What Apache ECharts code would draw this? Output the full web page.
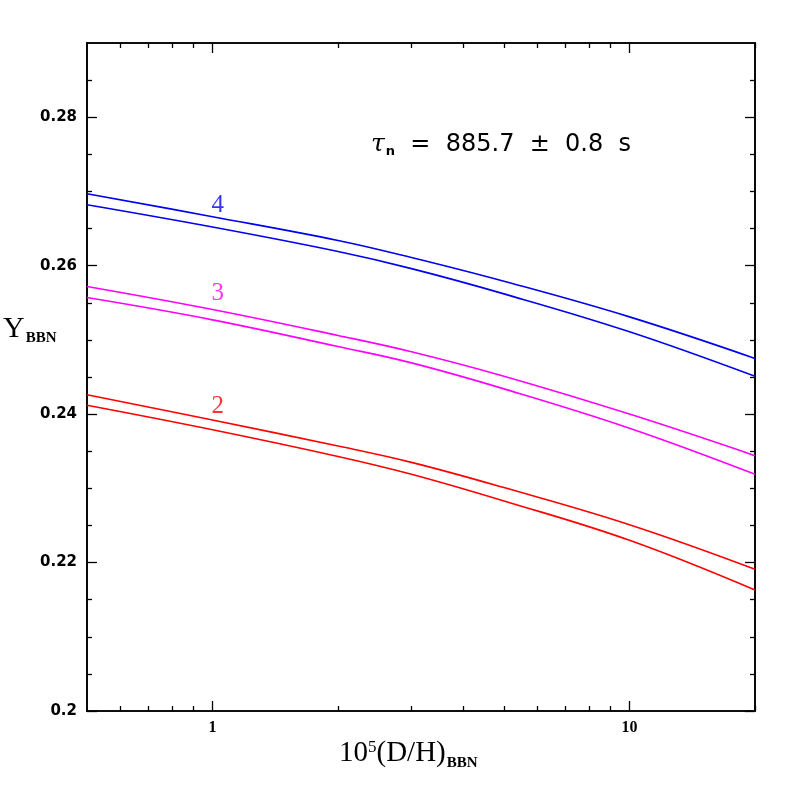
<!DOCTYPE html>
<html>
<head>
<meta charset="utf-8">
<script src="https://cdn.jsdelivr.net/npm/echarts@6/dist/echarts.min.js"></script>
<style>html,body{margin:0;padding:0;background:#fff}#c{width:797px;height:797px}</style>
</head>
<body>
<div id="c"></div>
<script>
// ---- data ----
const xVals    = [0.5, 1, 2, 3, 5, 10, 20];
const y4Upper  = [0.2697, 0.2666, 0.2634, 0.2611, 0.2579, 0.2531, 0.2475];
const y4Lower  = [0.2682, 0.2652, 0.2619, 0.2596, 0.2562, 0.2511, 0.2451];
const y3Upper  = [0.2572, 0.2541, 0.2506, 0.2484, 0.2451, 0.2400, 0.2344];
const y3Lower  = [0.2557, 0.2527, 0.2491, 0.2469, 0.2434, 0.2381, 0.2319];
const y2Upper  = [0.2426, 0.2392, 0.2357, 0.2335, 0.2301, 0.2251, 0.2191];
const y2Lower  = [0.2412, 0.2379, 0.2343, 0.2319, 0.2283, 0.2230, 0.2163];

const curveLabelX    = [1.03, 1.03, 1.03];
const curveLabelY    = [0.2681, 0.2562, 0.2411];
const curveLabelText = ['4', '3', '2'];

const xMajorTicks = [1, 10];
const xMinorTicks = [0.6, 0.7, 0.8, 0.9, 2, 3, 4, 5, 6, 7, 8, 9, 20];
const yMajorTicks = [0.2, 0.22, 0.24, 0.26, 0.28];
const yMinorTicks = [0.205, 0.21, 0.215, 0.225, 0.23, 0.235, 0.245, 0.25, 0.255,
                     0.265, 0.27, 0.275, 0.285];

const blue = '#0000ee', magenta = '#ff00ff', red = '#ff0000';

function pairs(ys) { return xVals.map((x, i) => [x, ys[i]]); }

const chart = echarts.init(document.getElementById('c'), null, {renderer: 'canvas'});

const axisLineStyle = {color: '#000', width: 1.6};
function xAxisDef(pos, ticks, len, labels) {
  return {
    type: 'log', logBase: 10, min: 0.5, max: 20, position: pos,
    axisLine: {show: true, onZero: false, lineStyle: axisLineStyle},
    axisTick: {show: true, inside: true, length: len, customValues: ticks,
               lineStyle: {color: '#000', width: 1.3}},
    axisLabel: labels ? {show: true, customValues: labels, color: '#000',
               fontFamily: 'Liberation Serif', fontWeight: 'bold', fontSize: 16, margin: 9} : {show: false},
    splitLine: {show: false}, minorTick: {show: false}
  };
}
function yAxisDef(pos, ticks, len, labels) {
  return {
    type: 'value', min: 0.2, max: 0.29, position: pos,
    axisLine: {show: true, onZero: false, lineStyle: axisLineStyle},
    axisTick: {show: true, inside: true, length: len, customValues: ticks,
               lineStyle: {color: '#000', width: 1.3}},
    axisLabel: labels ? {show: true, customValues: labels, color: '#000',
               fontFamily: 'DejaVu Sans', fontWeight: 'bold', fontSize: 15, margin: 10,
               formatter: v => String(+v.toFixed(3))} : {show: false},
    splitLine: {show: false}, minorTick: {show: false}
  };
}

function line(ys, color) {
  return {
    type: 'line', data: pairs(ys), xAxisIndex: 0, yAxisIndex: 0,
    showSymbol: false, symbol: 'none', smooth: 0.4,
    lineStyle: {color: color, width: 1.6}, silent: true, animation: false
  };
}

const labelColors = [blue, magenta, red];

chart.setOption({
  animation: false,
  backgroundColor: '#fff',
  grid: {left: 87, right: 42, top: 43, bottom: 86, containLabel: false},
  xAxis: [
    xAxisDef('bottom', xMajorTicks, 10, xMajorTicks),
    xAxisDef('bottom', xMinorTicks, 5, null),
    xAxisDef('top', xMajorTicks, 10, null),
    xAxisDef('top', xMinorTicks, 5, null)
  ],
  yAxis: [
    yAxisDef('left', yMajorTicks, 10, yMajorTicks),
    yAxisDef('left', yMinorTicks, 5, null),
    yAxisDef('right', yMajorTicks, 10, null),
    yAxisDef('right', yMinorTicks, 5, null)
  ],
  series: [
    line(y4Upper, blue), line(y4Lower, blue),
    line(y3Upper, magenta), line(y3Lower, magenta),
    line(y2Upper, red), line(y2Lower, red),
    {
      type: 'scatter', xAxisIndex: 0, yAxisIndex: 0, symbolSize: 0, silent: true,
      data: curveLabelX.map((x, i) => ({
        value: [x, curveLabelY[i]],
        label: {show: true, position: 'inside', formatter: curveLabelText[i],
                color: labelColors[i], fontFamily: 'Liberation Serif', fontSize: 25}
      }))
    }
  ],
  graphic: [
    {
      type: 'text', left: 371, top: 132,
      style: {
        text: '{t|τ}{n|n}{r|  =  885.7  ±  0.8  s}',
        rich: {
          t: {fontFamily: 'DejaVu Serif', fontStyle: 'italic', fontSize: 25, fill: '#000'},
          n: {fontFamily: 'DejaVu Sans', fontWeight: 'bold', fontSize: 13, fill: '#000',
              padding: [15, 0, 0, 1]},
          r: {fontFamily: 'DejaVu Sans', fontSize: 24, fill: '#000'}
        }
      }
    },
    {
      type: 'text', left: 3, top: 314,
      style: {
        text: '{y|Y}{s|BBN}',
        rich: {
          y: {fontFamily: 'Liberation Serif', fontSize: 30, fill: '#000'},
          s: {fontFamily: 'Liberation Serif', fontWeight: 'bold', fontSize: 15, fill: '#000',
              padding: [18, 0, 0, 1]}
        }
      }
    },
    {
      type: 'text', left: 339, top: 739,
      style: {
        text: '{a|10}{e|5}{a|(D/H)}{s|BBN}',
        rich: {
          a: {fontFamily: 'Liberation Serif', fontSize: 29, fill: '#000'},
          e: {fontFamily: 'Liberation Serif', fontSize: 17, fill: '#000', padding: [0, 0, 11, 0]},
          s: {fontFamily: 'Liberation Serif', fontWeight: 'bold', fontSize: 15, fill: '#000',
              padding: [19, 0, 0, 1]}
        }
      }
    }
  ]
});
</script>
</body>
</html>
